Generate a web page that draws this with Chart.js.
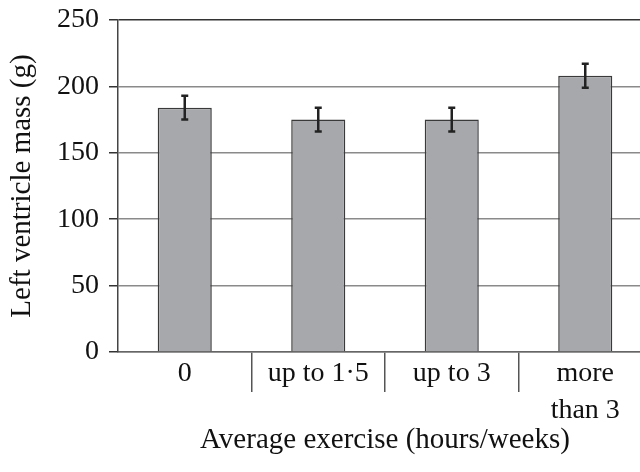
<!DOCTYPE html>
<html>
<head>
<meta charset="utf-8">
<script src="https://cdn.jsdelivr.net/npm/chart.js@4"></script>
<style>
  html, body { margin: 0; padding: 0; background: #fff; overflow: hidden; }
  #wrap { width: 652px; height: 472px; }
</style>
</head>
<body>
<div id="wrap"><canvas id="massChart"></canvas></div>
<script>
// values
const categories = ["0", "up to 1·5", "up to 3", ["more", "than 3"]];
const massValues = [184, 175, 175, 208];
const massErrors = [9, 9, 9, 9];
const yTicks = [0, 50, 100, 150, 200, 250];

const serif = "'Liberation Serif', 'DejaVu Serif', serif";

// error bars drawn on top of the bars
const errorBars = {
  id: "errorBars",
  afterDatasetsDraw(chart) {
    const ctx = chart.ctx;
    const y = chart.scales.y;
    const bars = chart.getDatasetMeta(0).data;
    ctx.save();
    ctx.strokeStyle = "#222";
    ctx.lineWidth = 2.5;
    bars.forEach((bar, i) => {
      const top = y.getPixelForValue(massValues[i] + massErrors[i]);
      const bot = y.getPixelForValue(massValues[i] - massErrors[i]);
      ctx.beginPath();
      ctx.moveTo(bar.x, top);
      ctx.lineTo(bar.x, bot);
      ctx.moveTo(bar.x - 3.5, top);
      ctx.lineTo(bar.x + 3.5, top);
      ctx.moveTo(bar.x - 3.5, bot);
      ctx.lineTo(bar.x + 3.5, bot);
      ctx.stroke();
    });
    ctx.restore();
  }
};

new Chart(document.getElementById("massChart"), {
  type: "bar",
  data: {
    labels: categories,
    datasets: [{
      data: massValues,
      backgroundColor: "#a7a8ab",
      borderColor: "#3a3a3a",
      borderWidth: 1.5,
      barPercentage: 0.405,
      categoryPercentage: 1
    }]
  },
  options: {
    responsive: true,
    maintainAspectRatio: false,
    animation: false,
    layout: { padding: { top: 20, right: 0, bottom: 14, left: 5 } },
    plugins: { legend: { display: false }, tooltip: { enabled: false } },
    scales: {
      x: {
        afterFit: (scale) => { scale.height = 106; },
        grid: {
          offset: true,
          drawOnChartArea: false,
          drawTicks: true,
          tickLength: 40,
          color: (c) => (c.index === 0 ? "rgba(0,0,0,0)" : "#555"),
          lineWidth: 1.5
        },
        border: { color: "#666", width: 1.5 },
        ticks: {
          color: "#111",
          padding: -36,
          maxRotation: 0,
          autoSkip: false,
          font: { family: serif, size: 28, lineHeight: 1.29 }
        },
        title: {
          display: true,
          text: "Average exercise (hours/weeks)",
          color: "#111",
          font: { family: serif, size: 29 },
          padding: { top: 0, bottom: 0 }
        }
      },
      y: {
        min: 0,
        max: 250,
        afterFit: (scale) => {
          scale.width = 113;
          scale.paddingTop = 0;
          scale.paddingBottom = 0;
        },
        afterBuildTicks: (scale) => { scale.ticks = yTicks.map((v) => ({ value: v })); },
        grid: {
          color: (c) => (c.tick && c.tick.value === 250 ? "#333" : "#8a8a8a"),
          tickColor: "#333",
          tickLength: 9,
          lineWidth: 1.5
        },
        border: { color: "#444", width: 1.5 },
        ticks: {
          color: "#111",
          padding: 10,
          font: { family: serif, size: 28 }
        },
        title: {
          display: true,
          text: "Left ventricle mass (g)",
          color: "#111",
          font: { family: serif, size: 29 },
          padding: { top: 0, bottom: 0 }
        }
      }
    }
  },
  plugins: [errorBars]
});
</script>
</body>
</html>
